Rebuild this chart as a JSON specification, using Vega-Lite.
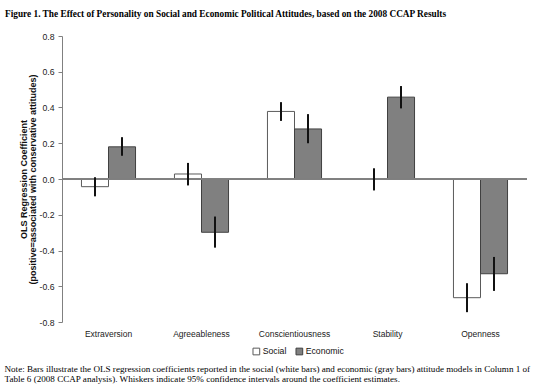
{
  "$schema": "https://vega.github.io/schema/vega-lite/v6.json",
  "autosize": "none",
  "width": 465,
  "height": 286,
  "padding": {"left": 62, "top": 36, "right": 8, "bottom": 69},
  "background": "white",
  "title": {
    "text": "Figure 1. The Effect of Personality on Social and Economic Political Attitudes, based on the 2008 CCAP Results",
    "font": "Liberation Serif",
    "fontSize": 9.3,
    "fontWeight": "bold",
    "color": "#000",
    "anchor": "start",
    "frame": "group",
    "dx": -57,
    "offset": 13
  },
  "config": {
    "view": {"stroke": null},
    "axis": {"grid": false},
    "axisY": {
      "values": [-0.8, -0.6, -0.4, -0.2, 0, 0.2, 0.4, 0.6, 0.8],
      "labelExpr": "replace(format(datum.value, '.1f'), '\u2212', '-')",
      "labelOverlap": false,
      "labelFlush": false,
      "titleFont": "Liberation Sans",
      "titleFontSize": 9,
      "titleFontWeight": "bold",
      "titleColor": "#111",
      "titlePadding": 2,
      "titleLineHeight": 9,
      "labelFont": "Liberation Sans",
      "labelFontSize": 8.7,
      "labelColor": "#222",
      "labelPadding": 4,
      "tickSize": 4,
      "tickColor": "#808080",
      "domainColor": "#808080"
    }
  },
  "data": {
    "values": [
      {"trait": "Extraversion", "series": "Social", "value": -0.043, "lo": -0.097, "hi": 0.01},
      {"trait": "Extraversion", "series": "Economic", "value": 0.18, "lo": 0.13, "hi": 0.234},
      {"trait": "Agreeableness", "series": "Social", "value": 0.028, "lo": -0.036, "hi": 0.09},
      {"trait": "Agreeableness", "series": "Economic", "value": -0.298, "lo": -0.384, "hi": -0.21},
      {"trait": "Conscientiousness", "series": "Social", "value": 0.378, "lo": 0.325, "hi": 0.43},
      {"trait": "Conscientiousness", "series": "Economic", "value": 0.28, "lo": 0.2, "hi": 0.363},
      {"trait": "Stability", "series": "Social", "value": 0.0, "lo": -0.064, "hi": 0.06},
      {"trait": "Stability", "series": "Economic", "value": 0.458, "lo": 0.395, "hi": 0.52},
      {"trait": "Openness", "series": "Social", "value": -0.664, "lo": -0.745, "hi": -0.583},
      {"trait": "Openness", "series": "Economic", "value": -0.53, "lo": -0.626, "hi": -0.436}
    ]
  },
  "encoding": {
    "x": {
      "field": "trait",
      "type": "nominal",
      "sort": ["Extraversion", "Agreeableness", "Conscientiousness", "Stability", "Openness"],
      "scale": {"paddingInner": 0, "paddingOuter": 0},
      "axis": {
        "title": ["Note: Bars illustrate the OLS regression coefficients reported in the social (white bars) and economic (gray bars) attitude models in Column 1 of", "Table 6 (2008 CCAP analysis). Whiskers indicate 95% confidence intervals around the coefficient estimates."],
        "titleFont": "Liberation Serif",
        "titleFontSize": 9.1,
        "titleFontWeight": "normal",
        "titleColor": "#000",
        "titleAlign": "left",
        "titleAnchor": "start",
        "titleBaseline": "top",
        "titleX": -58,
        "titleY": 42,
        "titleLineHeight": 10.5,
        "labelAngle": 0,
        "labelFont": "Liberation Sans",
        "labelFontSize": 8.5,
        "labelColor": "#222",
        "labelPadding": 7,
        "domain": false,
        "ticks": false
      }
    },
    "xOffset": {
      "field": "series",
      "type": "nominal",
      "sort": ["Social", "Economic"],
      "scale": {"paddingInner": 0, "paddingOuter": 0.72}
    }
  },
  "layer": [
    {
      "mark": {"type": "bar", "strokeWidth": 1},
      "encoding": {
        "y": {
          "field": "value",
          "type": "quantitative",
          "scale": {"domain": [-0.8, 0.8], "nice": false, "zero": true},
          "axis": {
            "title": ["OLS Regression Coefficient", "(positive=associated with conservative attitudes)"],
            "values": [-0.8, -0.6, -0.4, -0.2, 0, 0.2, 0.4, 0.6, 0.8]
          }
        },
        "y2": {"datum": 0},
        "fill": {
          "field": "series",
          "type": "nominal",
          "sort": ["Social", "Economic"],
          "scale": {"domain": ["Social", "Economic"], "range": ["#ffffff", "#808080"]},
          "legend": {
            "title": null,
            "orient": "none",
            "legendX": 190,
            "legendY": 311,
            "direction": "horizontal",
            "symbolType": "square",
            "symbolSize": 45,
            "symbolStrokeWidth": 1,
            "labelFont": "Liberation Sans",
            "labelFontSize": 8.7,
            "labelColor": "#111",
            "labelOffset": 2,
            "columnPadding": 6
          }
        },
        "stroke": {
          "field": "series",
          "type": "nominal",
          "sort": ["Social", "Economic"],
          "scale": {"domain": ["Social", "Economic"], "range": ["#5a5a5a", "#404040"]},
          "legend": {
            "title": null,
            "orient": "none",
            "legendX": 190,
            "legendY": 311,
            "direction": "horizontal",
            "symbolType": "square",
            "symbolSize": 45,
            "labelFont": "Liberation Sans",
            "labelFontSize": 8.7,
            "labelColor": "#111",
            "labelOffset": 2,
            "columnPadding": 6
          }
        }
      }
    },
    {
      "mark": {"type": "rule", "color": "#808080", "strokeWidth": 1},
      "encoding": {"y": {"datum": 0, "axis": {"title": ["OLS Regression Coefficient", "(positive=associated with conservative attitudes)"], "values": [-0.8, -0.6, -0.4, -0.2, 0, 0.2, 0.4, 0.6, 0.8]}}, "x": null, "xOffset": null}
    },
    {
      "mark": {"type": "rule", "color": "#111", "strokeWidth": 2},
      "encoding": {
        "y": {"field": "lo", "type": "quantitative", "axis": {"title": ["OLS Regression Coefficient", "(positive=associated with conservative attitudes)"], "values": [-0.8, -0.6, -0.4, -0.2, 0, 0.2, 0.4, 0.6, 0.8]}},
        "y2": {"field": "hi"}
      }
    }
  ]
}
